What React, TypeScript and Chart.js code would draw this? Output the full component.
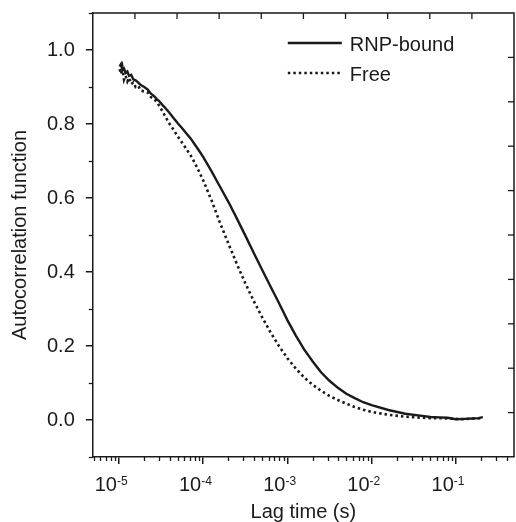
import React, { useEffect, useRef } from 'react';
import { Chart, registerables } from 'chart.js';

Chart.register(...registerables);

// ---- data ----
const lagTimes = [
  1.02e-5, 1.06e-5, 1.1e-5, 1.15e-5, 1.2e-5, 1.26e-5, 1.32e-5, 1.4e-5, 1.48e-5, 1.58e-5,
  1.7e-5, 1.82e-5, 2.0e-5, 2.2e-5, 2.4e-5, 2.6e-5, 2.8e-5, 3.0e-5, 3.3e-5, 3.6e-5,
  4.0e-5, 4.5e-5, 5.0e-5, 5.6e-5, 6.3e-5, 7.1e-5, 8.0e-5, 9.0e-5, 1.0e-4,
  1.26e-4, 1.58e-4, 2.0e-4, 2.51e-4, 3.16e-4, 3.98e-4, 5.01e-4, 6.31e-4, 7.94e-4, 1.0e-3,
  1.26e-3, 1.58e-3, 2.0e-3, 2.51e-3, 3.16e-3, 3.98e-3, 5.01e-3, 6.31e-3, 7.94e-3, 1.0e-2,
  1.58e-2, 2.51e-2, 3.98e-2, 5.0e-2, 6.31e-2, 8.0e-2, 0.1, 0.126, 0.158, 0.185, 0.209,
];

const rnpBound = [
  0.955, 0.962, 0.945, 0.950, 0.938, 0.942, 0.930, 0.933, 0.921, 0.918,
  0.912, 0.905, 0.900, 0.893, 0.882, 0.876, 0.868, 0.862, 0.851, 0.842,
  0.830, 0.815, 0.802, 0.789, 0.775, 0.761, 0.744, 0.727, 0.711,
  0.672, 0.631, 0.589, 0.545, 0.499, 0.452, 0.406, 0.361, 0.316, 0.270,
  0.228, 0.191, 0.158, 0.129, 0.106, 0.087, 0.071, 0.059, 0.048, 0.040,
  0.027, 0.017, 0.011, 0.008, 0.007, 0.006, 0.002, 0.003, 0.004, 0.005, 0.008,
];

const freeRna = [
  0.948, 0.935, 0.952, 0.920, 0.930, 0.915, 0.925, 0.908, 0.912, 0.900,
  0.903, 0.890, 0.888, 0.885, 0.873, 0.868, 0.860, 0.850, 0.834, 0.818,
  0.800, 0.783, 0.766, 0.750, 0.733, 0.715, 0.694, 0.670, 0.648,
  0.593, 0.534, 0.476, 0.422, 0.370, 0.322, 0.278, 0.237, 0.200, 0.167,
  0.139, 0.115, 0.095, 0.079, 0.065, 0.054, 0.044, 0.035, 0.028, 0.022,
  0.014, 0.009, 0.006, 0.005, 0.005, 0.004, 0.003, 0.002, 0.004, 0.004, 0.006,
];

const seriesNames = ['RNP-bound', 'Free'];
const xDecadeExponents = [-6, -5, -4, -3, -2, -1];
const xLabelExponents = [-5, -4, -3, -2, -1];
const yMajorLabels = ['0.0', '0.2', '0.4', '0.6', '0.8', '1.0'];
const xLimits = [4.9e-6, 0.49];
const yLimits = [-0.1, 1.1];
const frameDivisions = 10;

const INK = '#1a1a1a';
const FONT = '"Liberation Sans", Arial, Helvetica, sans-serif';

const isDecade = (v: number) => Math.abs(Math.log10(v) - Math.round(Math.log10(v))) < 1e-6;
const isMajorY = (v: number) => Math.round(v * 10) % 2 === 0;

const framePlugin = {
  id: 'frameAndLabels',
  afterDraw(chart: any) {
    const { ctx, chartArea: a, scales } = chart;
    const xs = scales.x;
    const ys = scales.y;
    const line = (x1: number, y1: number, x2: number, y2: number) => {
      ctx.beginPath();
      ctx.moveTo(x1, y1);
      ctx.lineTo(x2, y2);
      ctx.stroke();
    };
    ctx.save();
    ctx.strokeStyle = INK;
    ctx.lineWidth = 1.5;
    ctx.beginPath();
    ctx.moveTo(a.left, a.top);
    ctx.lineTo(a.right, a.top);
    ctx.lineTo(a.right, a.bottom);
    ctx.stroke();
    ctx.lineWidth = 1.3;
    xs.ticks.forEach((t: any) => {
      if (!isDecade(t.value)) {
        const px = Math.round(xs.getPixelForValue(t.value)) + 0.5;
        line(px, a.bottom, px, a.bottom + 4);
      }
    });
    ys.ticks.forEach((t: any) => {
      if (!isMajorY(t.value)) {
        const py = Math.round(ys.getPixelForValue(t.value)) + 0.5;
        line(a.left - 4, py, a.left, py);
      }
    });
    for (let k = 1; k < frameDivisions; k++) {
      const px = a.left + ((a.right - a.left) * k) / frameDivisions;
      line(px, a.top, px, a.top + 6);
      const py = a.top + ((a.bottom - a.top) * k) / frameDivisions;
      line(a.right - 6, py, a.right, py);
    }
    ctx.fillStyle = INK;
    ctx.textBaseline = 'alphabetic';
    xLabelExponents.forEach((e) => {
      const px = xs.getPixelForValue(Math.pow(10, e));
      ctx.font = `20px ${FONT}`;
      ctx.textAlign = 'right';
      ctx.fillText('10', px - 2, a.bottom + 34);
      ctx.font = `12px ${FONT}`;
      ctx.textAlign = 'left';
      ctx.fillText(String(e), px - 2, a.bottom + 28);
    });
    const ds = chart.data.datasets;
    ds.forEach((d: any, i: number) => {
      const y = a.top + 30 + i * 30;
      ctx.strokeStyle = d.borderColor;
      ctx.lineWidth = d.borderWidth;
      ctx.setLineDash(d.borderDash || []);
      line(a.left + 195, y, a.left + 249, y);
      ctx.setLineDash([]);
      ctx.font = `20px ${FONT}`;
      ctx.textAlign = 'left';
      ctx.fillText(d.label, a.left + 257, y + 8);
    });
    ctx.restore();
  },
};

export default function App() {
  const ref = useRef<HTMLCanvasElement>(null);
  useEffect(() => {
    if (!ref.current) return;
    const toPoints = (vals: number[]) => lagTimes.map((t, i) => ({ x: t, y: vals[i] }));
    const chart = new Chart(ref.current, {
      type: 'line',
      data: {
        datasets: [
          {
            label: seriesNames[0],
            data: toPoints(rnpBound),
            borderColor: INK,
            borderWidth: 2.4,
            pointRadius: 0,
            tension: 0,
            fill: false,
          },
          {
            label: seriesNames[1],
            data: toPoints(freeRna),
            borderColor: INK,
            borderWidth: 2.6,
            borderDash: [2.5, 3],
            borderCapStyle: 'butt',
            pointRadius: 0,
            tension: 0,
            fill: false,
          },
        ],
      },
      options: {
        responsive: false,
        animation: false,
        layout: { padding: { left: 0, right: 2, top: 13, bottom: 0 } },
        plugins: { legend: { display: false }, tooltip: { enabled: false } },
        scales: {
          x: {
            type: 'logarithmic',
            min: xLimits[0],
            max: xLimits[1],
            afterBuildTicks: (scale: any) => {
              const ticks: any[] = [];
              xDecadeExponents.forEach((e) => {
                for (let k = 1; k <= 9; k++) {
                  const v = k * Math.pow(10, e);
                  if (v >= xLimits[0] * 0.999 && v <= xLimits[1] * 1.001) ticks.push({ value: v });
                }
              });
              scale.ticks = ticks;
            },
            border: { display: true, color: INK, width: 1.5 },
            grid: {
              display: true,
              drawOnChartArea: false,
              drawTicks: true,
              tickLength: 7,
              lineWidth: 1.5,
              tickColor: (c: any) => (c.tick && isDecade(c.tick.value) ? INK : 'rgba(0,0,0,0)'),
            },
            ticks: {
              autoSkip: false,
              maxRotation: 0,
              padding: 4,
              color: 'rgba(0,0,0,0)',
              font: { size: 20, family: FONT },
              callback: (v: any) => (isDecade(Number(v)) ? '10' : ''),
            },
            title: {
              display: true,
              text: 'Lag time (s)',
              color: INK,
              font: { size: 20, family: FONT, lineHeight: 1.0 },
              padding: { top: 6, bottom: 0 },
            },
          },
          y: {
            type: 'linear',
            min: yLimits[0],
            max: yLimits[1],
            border: { display: true, color: INK, width: 1.5 },
            grid: {
              display: true,
              drawOnChartArea: false,
              drawTicks: true,
              tickLength: 7,
              lineWidth: 1.5,
              tickColor: (c: any) => (c.tick && isMajorY(c.tick.value) ? INK : 'rgba(0,0,0,0)'),
            },
            ticks: {
              stepSize: 0.1,
              autoSkip: false,
              padding: 11,
              color: INK,
              font: { size: 20, family: FONT, lineHeight: 0.1 },
              callback: (v: any) => {
                const n = Math.round(Number(v) * 10);
                if (n % 2 !== 0 || n < 0 || n > 10) return '';
                return yMajorLabels[n / 2];
              },
            },
            title: {
              display: true,
              text: 'Autocorrelation function',
              color: INK,
              font: { size: 20, family: FONT, lineHeight: 1.2 },
              padding: { top: 8, bottom: 4 },
            },
          },
        },
      },
      plugins: [framePlugin],
    } as any);
    return () => chart.destroy();
  }, []);
  return (
    <div style={{ position: 'absolute', left: 0, top: 0, width: 516, height: 522, background: '#fff' }}>
      <canvas ref={ref} width={516} height={522} style={{ display: 'block' }} />
    </div>
  );
}
